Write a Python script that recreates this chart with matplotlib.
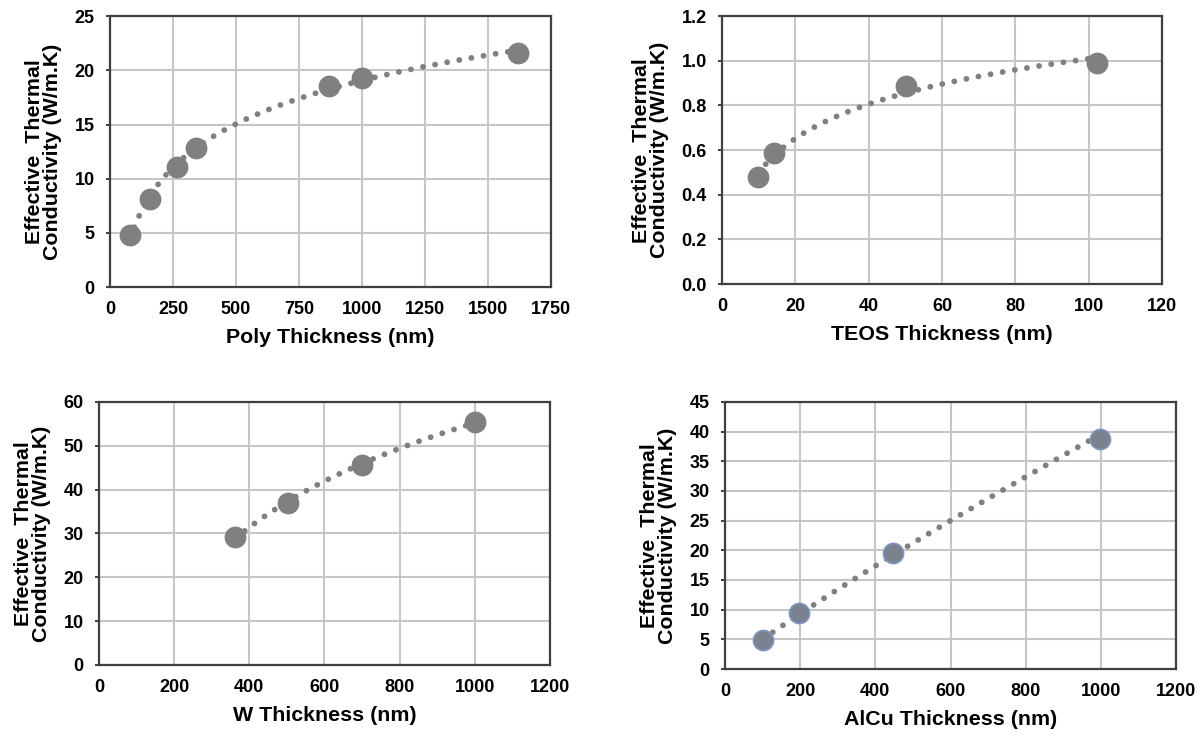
import numpy as np
import matplotlib.pyplot as plt
from matplotlib.ticker import FormatStrFormatter

plt.rcParams['font.family'] = ['Liberation Sans', 'DejaVu Sans']
plt.rcParams['font.weight'] = 'bold'

# measured thickness (nm) vs effective thermal conductivity (W/m.K)
poly_t = [80, 160, 265, 340, 870, 1000, 1620]
poly_k = [4.8, 8.1, 11.1, 12.8, 18.6, 19.3, 21.6]

teos_t = [9.8, 14.3, 50.1, 102.3]
teos_k = [0.478, 0.585, 0.888, 0.991]

w_t = [362, 502, 700, 1000]
w_k = [29.1, 37.0, 45.6, 55.5]

alcu_t = [100, 198, 447, 997]
alcu_k = [4.9, 9.4, 19.6, 38.7]

YLABEL = "Effective  Thermal\nConductivity (W/m.K)"


def log_trend(x, y):
    a, b = np.polyfit(np.log(x), y, 1)
    xs = np.linspace(min(x), max(x), 200)
    return xs, a * np.log(xs) + b


def power_trend(x, y):
    p, c = np.polyfit(np.log(x), np.log(y), 1)
    xs = np.linspace(min(x), max(x), 200)
    return xs, np.exp(c) * xs ** p


def draw_panel(ax, x, y, trend, xlabel, xlim, xstep, ylim, ystep,
               mcolor='#808080', medge='#808080', yfmt=None):
    xs, ys = trend(np.array(x, float), np.array(y, float))
    ax.plot(xs, ys, color='#808080', lw=4.2, linestyle=(0, (0.01, 2.1)),
            dash_capstyle='round', zorder=2)
    ax.plot(x, y, 'o', ms=14.5, color=mcolor, mec=medge, mew=1.2, zorder=3)
    ax.set_xlim(*xlim)
    ax.set_ylim(*ylim)
    ax.set_xticks(np.arange(xlim[0], xlim[1] + xstep / 2, xstep))
    ax.set_yticks(np.arange(ylim[0], ylim[1] + ystep / 2, ystep))
    if yfmt:
        ax.yaxis.set_major_formatter(FormatStrFormatter(yfmt))
    ax.grid(True, color='#c6c6c6', lw=1.5)
    ax.set_axisbelow(True)
    for s in ax.spines.values():
        s.set_color('#404040')
        s.set_linewidth(1.6)
    ax.tick_params(axis='x', length=0, pad=10, labelsize=13)
    ax.tick_params(axis='y', length=3, width=1.2, color='#202020',
                   pad=8, labelsize=13)
    ax.set_xlabel(xlabel, fontsize=15.4, fontweight='bold', labelpad=7)
    ax.set_ylabel(YLABEL, fontsize=15.4, fontweight='bold', labelpad=9,
                  linespacing=0.95)


fig = plt.figure(figsize=(12, 7.36), dpi=100)

ax1 = fig.add_axes([0.0917, 0.610, 0.3675, 0.368])
draw_panel(ax1, poly_t, poly_k, log_trend, "Poly Thickness (nm)",
           (0, 1750), 250, (0, 25), 5)

ax2 = fig.add_axes([0.6017, 0.614, 0.3667, 0.364])
draw_panel(ax2, teos_t, teos_k, log_trend, "TEOS Thickness (nm)",
           (0, 120), 20, (0, 1.2), 0.2, yfmt='%.1f')

ax3 = fig.add_axes([0.0825, 0.0965, 0.3758, 0.3575])
draw_panel(ax3, w_t, w_k, log_trend, "W Thickness (nm)",
           (0, 1200), 200, (0, 60), 10)

ax4 = fig.add_axes([0.6042, 0.091, 0.3758, 0.363])
draw_panel(ax4, alcu_t, alcu_k, power_trend, "AlCu Thickness (nm)",
           (0, 1200), 200, (0, 45), 5, mcolor='#7c8190', medge='#8096c0')

fig.savefig("out.png", dpi=100, facecolor='white')
